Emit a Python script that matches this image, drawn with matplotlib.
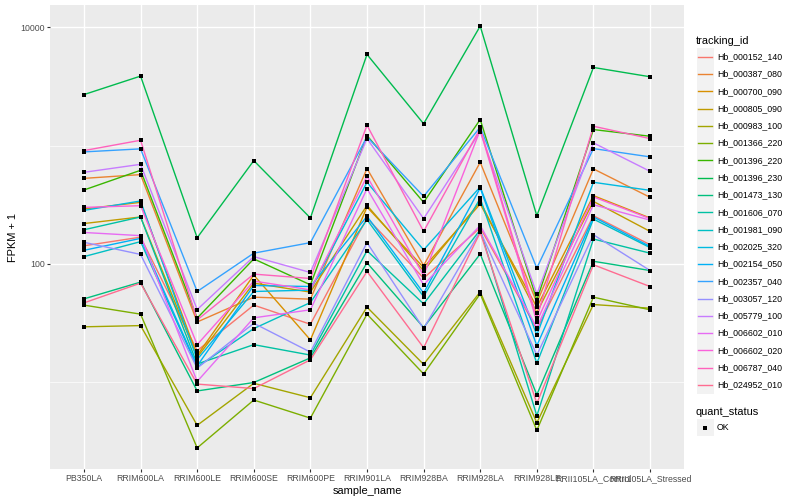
import matplotlib
matplotlib.use("Agg")
import matplotlib.pyplot as plt
from matplotlib.lines import Line2D
from matplotlib.patches import Rectangle
from matplotlib.ticker import NullFormatter

plt.rcParams['font.family'] = ['Liberation Sans', 'DejaVu Sans']

# samples on the x axis
samples = ["PB350LA", "RRIM600LA", "RRIM600LE", "RRIM600SE", "RRIM600PE",
           "RRIM901LA", "RRIM928BA", "RRIM928LA", "RRIM928LE",
           "RRII105LA_Control", "RRII105LA_Stressed"]

tracking_ids = ["Hb_000152_140", "Hb_000387_080", "Hb_000700_090", "Hb_000805_090",
                "Hb_000983_100", "Hb_001366_220", "Hb_001396_220", "Hb_001396_230",
                "Hb_001473_130", "Hb_001606_070", "Hb_001981_090", "Hb_002025_320",
                "Hb_002154_050", "Hb_002357_040", "Hb_003057_120", "Hb_005779_100",
                "Hb_006602_010", "Hb_006602_020", "Hb_006787_040", "Hb_024952_010"]

# ggplot hue palette, 20 levels
colors = ["#F8766D", "#EA8331", "#D89000", "#C09B00", "#A3A500", "#7CAE00",
          "#39B600", "#00BB4E", "#00BF7D", "#00C1A3", "#00BFC4", "#00BAE0",
          "#00B0F6", "#35A2FF", "#9590FF", "#C77CFF", "#E76BF3", "#FA62DB",
          "#FF62BC", "#FF6C91"]

# FPKM + 1 (one list per gene, in sample order)
hb_000152_140 = [142, 168, 18.4, 44.7, 30.8, 244, 75.6, 202, 28.0, 255, 145]
hb_000387_080 = [528, 568, 32.2, 52.2, 50.2, 639, 96.7, 722, 47.0, 635, 365]
hb_000700_090 = [291, 331, 16.8, 80.2, 22.7, 302, 93.0, 320, 43.0, 377, 244]
hb_000805_090 = [219, 249, 16.2, 68.6, 57.6, 312, 87.2, 335, 38.7, 337, 188]
hb_000983_100 = [29.3, 30.0, 4.3, 9.75, 7.36, 43.0, 14.1, 57.9, 4.52, 45.2, 42.1]
hb_001366_220 = [44.7, 37.5, 2.77, 7.04, 4.95, 37.5, 11.7, 55.7, 3.9, 52.2, 40.8]
hb_001396_220 = [421, 618, 34.7, 110, 66.4, 1215, 331, 1661, 49.5, 1366, 1199]
hb_001396_230 = [2700, 3870, 166, 746, 244, 5900, 1530, 10250, 255, 4580, 3820]
hb_001473_130 = [50.5, 70.0, 8.4, 9.9, 16.0, 102, 28.9, 121, 7.8, 105, 87.7]
hb_001606_070 = [194, 249, 14.2, 20.7, 16.9, 129, 45.8, 194, 5.18, 162, 123]
hb_001981_090 = [115, 154, 13.4, 28.3, 47.0, 236, 52.8, 358, 14.4, 239, 137]
hb_002025_320 = [283, 340, 15.5, 58.3, 59.9, 489, 131, 447, 25.0, 489, 418]
hb_002154_050 = [130, 164, 13.7, 65.5, 64.2, 252, 56.5, 438, 20.3, 249, 140]
hb_002357_040 = [884, 938, 58.3, 123, 151, 1185, 372, 1429, 91.9, 943, 802]
hb_003057_120 = [152, 120, 13.1, 31.4, 17.9, 151, 28.3, 188, 16.9, 176, 87.7]
hb_005779_100 = [594, 694, 41.0, 115, 84.4, 1146, 241, 1314, 55.4, 1054, 606]
hb_006602_010 = [184, 173, 10.1, 34.9, 40.8, 432, 66.4, 211, 28.9, 316, 234]
hb_006602_020 = [300, 310, 20.7, 71.4, 60.2, 549, 79.6, 1353, 32.4, 368, 241]
hb_006787_040 = [907, 1109, 33.5, 81.8, 75.1, 1486, 188, 1394, 34.9, 1457, 1146]
hb_024952_010 = [46.7, 68.6, 9.6, 8.8, 15.4, 86.1, 19.5, 184, 6.6, 98.1, 64.2]

fpkm = [hb_000152_140, hb_000387_080, hb_000700_090, hb_000805_090, hb_000983_100,
        hb_001366_220, hb_001396_220, hb_001396_230, hb_001473_130, hb_001606_070,
        hb_001981_090, hb_002025_320, hb_002154_050, hb_002357_040, hb_003057_120,
        hb_005779_100, hb_006602_010, hb_006602_020, hb_006787_040, hb_024952_010]

W, H = 800, 500
def fx(px):
    return px / W
def fy(py):
    return 1 - py / H

fig = plt.figure(figsize=(8, 5), dpi=100)
ax = fig.add_axes([fx(50), fy(469), (684 - 50) / W, (469 - 5) / H])
ax.set_facecolor('#EBEBEB')
ax.set_axisbelow(True)

x = list(range(len(samples)))
for vals, col in zip(fpkm, colors):
    ax.plot(x, vals, color=col, lw=1.0, zorder=2)
for vals in fpkm:
    ax.plot(x, vals, ls='none', marker='s', ms=2.4, mew=0, color='black', zorder=3)

ax.set_yscale('log')
ax.margins(y=0.05)
ax.set_xlim(-0.6, len(samples) - 0.4)
ax.set_xticks(x)
ax.set_xticklabels(samples)
ax.set_yticks([100, 10000])
ax.set_yticklabels(['100', '10000'])
ax.set_yticks([10, 1000], minor=True)
ax.yaxis.set_minor_formatter(NullFormatter())
ax.grid(which='major', color='white', lw=1.0)
ax.grid(which='minor', axis='y', color='white', lw=0.5)
ax.tick_params(which='minor', length=0)
ax.tick_params(which='major', length=2.0, width=0.8, color='#333333',
               labelsize=6.3, labelcolor='#4D4D4D', pad=1.6)
for s in ax.spines.values():
    s.set_visible(False)

fig.text(fx(367), fy(491), 'sample_name', fontsize=7.9, ha='center', va='center')
fig.text(fx(13), fy(237), 'FPKM + 1', fontsize=7.9, ha='center', va='center',
         rotation=90)

# legend: tracking_id
key = 17.28
fig.text(fx(696), fy(40.7), 'tracking_id', fontsize=7.9, ha='left', va='center')
for i, (name, col) in enumerate(zip(tracking_ids, colors)):
    cy = 56.7 + i * key
    fig.patches.append(Rectangle((fx(696.5), fy(cy + key / 2)), key / W, key / H,
                                 transform=fig.transFigure, facecolor='#F2F2F2',
                                 edgecolor='none'))
    fig.lines.append(Line2D([fx(698.2), fx(712.1)], [fy(cy), fy(cy)],
                            transform=fig.transFigure, color=col, lw=1.0))
    fig.text(fx(717), fy(cy), name, fontsize=6.3, ha='left', va='center')

# legend: quant_status
fig.text(fx(696), fy(411.7), 'quant_status', fontsize=7.9, ha='left', va='center')
cy = 427.5
fig.patches.append(Rectangle((fx(696.5), fy(cy + key / 2)), key / W, key / H,
                             transform=fig.transFigure, facecolor='#F2F2F2',
                             edgecolor='none'))
fig.lines.append(Line2D([fx(705.1)], [fy(cy)], transform=fig.transFigure,
                        marker='s', ms=2.4, mew=0, color='black', ls='none'))
fig.text(fx(717), fy(cy), 'OK', fontsize=6.3, ha='left', va='center')

fig.savefig('out.png', dpi=100)
